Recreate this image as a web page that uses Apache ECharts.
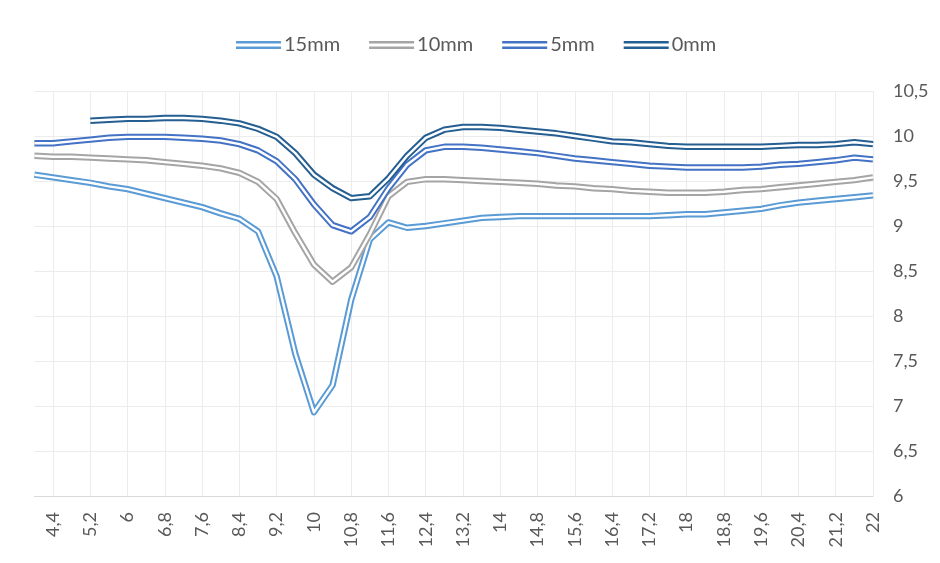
<!DOCTYPE html>
<html>
<head>
<meta charset="utf-8">
<script src="https://cdn.jsdelivr.net/npm/echarts@6/dist/echarts.min.js"></script>
<style>
  html, body { margin: 0; padding: 0; background: #fff; }
  #chart { width: 940px; height: 563px; }
</style>
</head>
<body>
<div id="chart"></div>
<script>
// Position along the profile (comma decimal labels)
const categories = [
  '4', '4,4', '4,8', '5,2', '5,6', '6', '6,4', '6,8', '7,2', '7,6',
  '8', '8,4', '8,8', '9,2', '9,6', '10', '10,4', '10,8', '11,2', '11,6',
  '12', '12,4', '12,8', '13,2', '13,6', '14', '14,4', '14,8', '15,2', '15,6',
  '16', '16,4', '16,8', '17,2', '17,6', '18', '18,4', '18,8', '19,2', '19,6',
  '20', '20,4', '20,8', '21,2', '21,6', '22'
];

const values15mm = [
  9.57, 9.54, 9.51, 9.48, 9.44, 9.41, 9.36, 9.31, 9.26, 9.21,
  9.14, 9.08, 8.94, 8.44, 7.58, 6.93, 7.23, 8.18, 8.85, 9.04,
  8.98, 9.00, 9.03, 9.06, 9.09, 9.10, 9.11, 9.11, 9.11, 9.11,
  9.11, 9.11, 9.11, 9.11, 9.12, 9.13, 9.13, 9.15, 9.17, 9.19,
  9.23, 9.26, 9.28, 9.30, 9.32, 9.34
];

const values10mm = [
  9.78, 9.77, 9.77, 9.76, 9.75, 9.74, 9.73, 9.71, 9.69, 9.67,
  9.64, 9.59, 9.49, 9.30, 8.92, 8.57, 8.38, 8.54, 8.91, 9.33,
  9.49, 9.52, 9.52, 9.51, 9.50, 9.49, 9.48, 9.47, 9.45, 9.44,
  9.42, 9.41, 9.39, 9.38, 9.37, 9.37, 9.37, 9.38, 9.40, 9.41,
  9.43, 9.45, 9.47, 9.49, 9.51, 9.54
];

const values5mm = [
  9.92, 9.92, 9.94, 9.96, 9.98, 9.99, 9.99, 9.99, 9.98, 9.97,
  9.95, 9.91, 9.84, 9.72, 9.52, 9.24, 9.01, 8.94, 9.10, 9.42,
  9.68, 9.84, 9.88, 9.88, 9.87, 9.85, 9.83, 9.81, 9.78, 9.75,
  9.73, 9.71, 9.69, 9.67, 9.66, 9.65, 9.65, 9.65, 9.65, 9.66,
  9.68, 9.69, 9.71, 9.73, 9.76, 9.74
];

const values0mm = [
  null, null, null, 10.17, 10.18, 10.19, 10.19, 10.20, 10.20, 10.19,
  10.17, 10.14, 10.08, 9.99, 9.81, 9.57, 9.42, 9.31, 9.33, 9.53,
  9.78, 9.98, 10.07, 10.10, 10.10, 10.09, 10.07, 10.05, 10.03, 10.00,
  9.97, 9.94, 9.93, 9.91, 9.89, 9.88, 9.88, 9.88, 9.88, 9.88,
  9.89, 9.90, 9.90, 9.91, 9.93, 9.91
];

const seriesNames = ['15mm', '10mm', '5mm', '0mm'];
const seriesColors = ['#5B9BD5', '#A5A5A5', '#4472C4', '#255E91'];
const seriesValues = [values15mm, values10mm, values5mm, values0mm];

const yTicks = { min: 6, max: 10.5, step: 0.5 };

const FONT = 'Lato, "Open Sans", sans-serif';
const TEXT = '#595959';

// Every other category carries a label and a vertical grid line
const oddIndex = (idx) => idx % 2 === 1;

// Each series is a "double" line: a wide coloured stroke with a thin white core
const series = [];
seriesNames.forEach((name, k) => {
  series.push({
    name: name,
    type: 'line',
    data: seriesValues[k],
    color: seriesColors[k],
    showSymbol: false,
    symbol: 'none',
    connectNulls: false,
    lineStyle: { color: seriesColors[k], width: 6.4, join: 'round' },
    itemStyle: { color: seriesColors[k] },
    emphasis: { disabled: true }
  });
  series.push({
    name: name,
    type: 'line',
    data: seriesValues[k],
    color: '#ffffff',
    showSymbol: false,
    symbol: 'none',
    lineStyle: { color: '#ffffff', width: 2.4, join: 'round' },
    emphasis: { disabled: true }
  });
});

const chart = echarts.init(document.getElementById('chart'), null, { renderer: 'canvas' });

chart.setOption({
  animation: false,
  backgroundColor: '#ffffff',
  legend: {
    data: seriesNames,
    left: 231,
    top: 30,
    itemWidth: 45,
    itemHeight: 8,
    itemGap: 29,
    icon: 'path://M0,0H45V2.4H0ZM0,5.6H45V8H0Z',
    itemStyle: { borderWidth: 0 },
    textStyle: { fontFamily: FONT, fontSize: 20, color: TEXT, padding: [0, 0, 0, -2] }
  },
  grid: { left: 34.4, right: 67, top: 91, bottom: 67, containLabel: false },
  xAxis: {
    type: 'category',
    data: categories,
    boundaryGap: false,
    axisLine: { show: true, lineStyle: { color: '#d9d9d9', width: 1 } },
    axisTick: { show: false },
    axisLabel: {
      interval: (idx) => oddIndex(idx),
      rotate: 90,
      margin: 16,
      fontFamily: FONT,
      fontSize: 18,
      color: TEXT
    },
    splitLine: {
      show: true,
      interval: (idx) => oddIndex(idx),
      lineStyle: { color: '#ececec', width: 1 }
    }
  },
  yAxis: {
    type: 'value',
    position: 'right',
    min: yTicks.min,
    max: yTicks.max,
    interval: yTicks.step,
    axisLine: { show: false },
    axisTick: { show: false },
    axisLabel: {
      margin: 20,
      fontFamily: FONT,
      fontSize: 18,
      color: TEXT,
      formatter: (v) => String(v).replace('.', ',')
    },
    splitLine: { show: true, lineStyle: { color: '#ececec', width: 1 } }
  },
  series: series
});
</script>
</body>
</html>
